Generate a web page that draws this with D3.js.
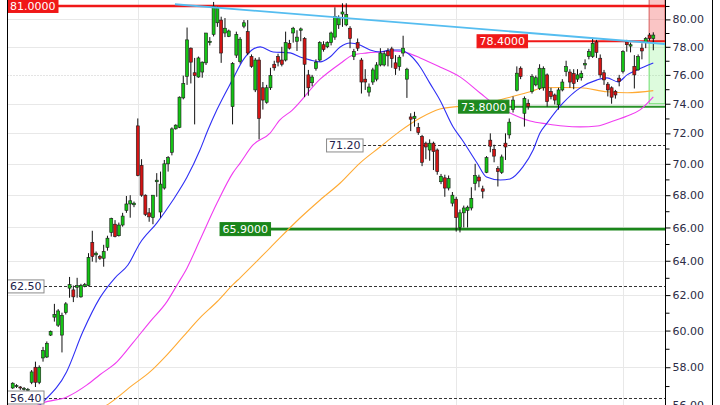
<!DOCTYPE html>
<html><head><meta charset="utf-8">
<script src="https://cdn.jsdelivr.net/npm/d3@7"></script>
<style>html,body{margin:0;padding:0;background:#fff;}svg{display:block;}</style>
</head><body><svg id="c" width="720" height="405"></svg>
<script>
// ---------- DATA ----------
const open = [
56.9,57.0,56.95,56.85,56.8,57.2,58.0,57.2,58.5,58.55,
59.75,60.75,60.3,59.75,61.0,62.4,62.3,62.45,61.9,62.5,
62.55,65.1,64.35,64.25,64.15,64.8,65.7,66.2,65.5,66.15,
67.05,67.45,67.4,72.5,69.9,68.0,66.9,66.6,68.85,66.95,
68.45,70.0,70.75,72.3,72.4,74.4,75.9,77.9,76.15,75.85,
76.2,76.85,78.3,78.9,79.75,79.95,79.0,78.75,73.8,77.4,
76.95,79.5,79.1,77.3,74.95,77.05,75.1,74.1,75.1,76.75,
77.3,77.05,77.05,78.25,79.0,78.4,79.2,78.6,76.0,75.45,
76.45,77.05,78.15,78.0,78.3,78.7,79.6,80.4,79.6,79.35,
77.3,78.3,77.05,75.7,74.8,75.5,75.7,76.7,76.7,77.7,
77.85,76.85,76.6,77.55,75.7,73.1,73.0,72.4,71.8,71.35,
70.9,71.35,70.9,68.85,69.1,68.45,67.5,67.75,66.0,66.9,
67.05,67.2,68.75,69.15,68.4,69.45,71.55,70.95,69.7,69.45,
71.35,71.9,73.6,74.93,76.47,73.35,74.03,74.83,75.3,75.06,
75.1,76.0,74.83,74.6,73.92,74.95,76.23,76.2,76.1,75.7,
75.8,76.7,77.3,77.3,78.35,77.18,76.15,75.35,75.1,74.85,
75.77,76.25,78.35,78.05,76.6,76.35,77.9,78.3,78.85,78.6];
const high = [
57.2,57.1,57.0,56.95,56.9,57.85,58.3,58.1,59.1,59.4,
60.0,61.5,61.2,61.0,61.6,63.05,62.55,63.0,62.65,62.7,
64.45,65.8,64.55,64.35,64.95,65.5,66.6,66.45,66.3,66.9,
67.95,68.0,67.6,73.0,70.3,68.05,67.2,68.0,69.4,69.5,
70.25,70.5,72.4,72.6,74.5,75.95,79.4,77.95,77.2,77.3,
76.95,79.0,78.7,81.3,80.95,80.2,80.1,79.25,76.9,79.1,
78.7,79.95,79.95,77.45,77.2,77.25,75.5,75.3,76.5,77.0,
77.5,78.0,79.1,78.5,79.45,79.2,79.4,78.7,76.35,76.0,
77.1,78.4,78.4,78.4,79.1,80.9,80.3,81.2,81.2,79.5,
77.85,78.6,77.2,76.4,75.4,76.5,76.9,77.9,77.7,77.9,
78.0,77.4,77.4,78.8,76.5,73.35,73.45,72.7,71.9,71.45,
71.6,71.45,71.0,69.35,69.3,69.25,68.2,67.9,67.1,67.35,
67.35,68.5,70.0,69.3,68.6,70.5,72.0,71.25,69.85,70.6,
72.0,73.0,74.5,76.6,76.6,74.5,74.3,76.05,75.95,76.75,
76.6,76.1,75.1,74.7,75.1,75.7,77.0,76.4,76.4,76.4,
76.3,77.1,77.85,78.65,78.5,77.45,76.35,75.5,75.2,74.95,
76.0,77.75,78.5,78.3,77.4,77.45,78.25,78.7,79.0,79.05];
const low = [
56.85,56.9,56.8,56.75,56.7,57.1,56.95,57.1,58.3,58.5,
59.7,60.5,60.2,58.8,60.9,61.85,61.6,61.85,61.85,62.45,
62.5,63.95,63.9,64.05,63.65,64.6,65.45,65.4,65.45,66.05,
66.9,66.6,67.25,69.2,67.9,66.7,66.35,66.2,67.9,66.6,
68.35,69.5,70.55,72.25,72.35,74.3,75.3,75.4,72.6,75.8,
75.8,76.7,78.1,78.75,79.45,76.85,78.7,78.7,72.6,77.2,
76.8,79.35,77.4,76.5,74.8,71.6,73.6,74.0,74.95,76.3,
76.6,76.6,76.95,77.8,78.3,77.7,78.4,74.45,74.55,75.2,
76.3,76.95,77.65,77.9,78.1,78.5,79.3,79.45,79.5,77.9,
77.05,77.7,74.7,74.95,74.5,75.3,75.55,76.6,76.6,76.6,
76.5,76.0,76.3,77.3,74.4,72.15,72.45,71.9,69.85,70.3,
70.2,69.6,69.3,68.7,67.9,68.3,67.3,65.75,65.7,66.0,
66.0,67.05,68.3,68.5,67.8,69.4,70.75,70.1,68.55,69.35,
70.25,71.65,73.4,74.85,75.7,72.45,73.6,74.7,75.2,74.95,
74.9,73.8,74.3,73.95,73.6,74.85,75.9,75.1,75.0,75.5,
75.6,76.4,77.1,77.2,77.2,75.8,75.3,74.5,74.0,74.35,
75.2,76.1,77.65,77.6,75.05,76.3,77.1,77.9,78.45,77.75];
const close = [
57.15,57.02,56.9,56.88,56.82,57.75,57.2,58.0,58.9,59.3,
59.95,60.9,61.1,60.85,61.5,62.6,61.9,62.55,62.55,62.6,
64.2,64.25,64.45,64.15,64.55,65.35,66.55,65.45,66.15,66.7,
67.45,67.65,67.5,69.25,68.0,66.8,66.65,68.0,68.95,68.7,
70.0,70.4,72.3,72.55,74.45,75.4,78.5,76.9,75.95,77.2,
76.9,79.0,78.4,80.95,80.85,77.55,79.35,79.15,76.8,78.9,
78.55,79.75,77.55,76.6,77.05,73.0,74.25,75.1,75.95,76.5,
76.9,76.75,78.3,77.9,79.35,78.7,79.3,76.75,75.1,75.85,
76.9,78.3,77.8,78.3,79.0,80.2,80.1,80.55,80.35,78.6,
77.65,77.9,75.5,75.5,75.15,76.35,76.7,77.55,77.5,77.35,
77.15,76.45,77.25,77.9,76.4,72.95,73.15,72.05,70.1,71.1,
71.35,70.8,69.5,69.2,68.45,69.05,68.0,66.6,66.9,67.2,
67.25,67.8,69.25,68.9,68.25,70.4,71.15,70.5,69.5,70.45,
71.1,72.75,74.25,76.12,75.88,74.37,73.8,75.88,75.8,76.47,
76.45,74.15,74.49,74.25,74.95,75.5,76.58,75.5,75.4,76.0,
76.1,76.8,77.65,78.25,77.6,76.0,75.65,74.95,74.45,74.6,
75.54,77.65,78.15,78.15,76.0,77.3,77.7,78.6,78.6,78.85];

// moving averages: [bar index, price]
const maBlue = [[6,55.8],[8,56.17],[14.2,57.75],[18.5,59.93],[23,61.84],[27,63.0],[30.4,63.75],[33.6,65.06],[38,66.27],[42.3,67.7],[46,69.15],[49.4,70.9],[51.5,72.22],[53.9,73.6],[58.1,75.72],[60.8,77.06],[63.1,77.77],[65.3,77.99],[68.7,77.63],[73.2,77.56],[75.8,77.27],[78.4,77.06],[81.1,76.92],[83.7,77.27],[86.4,77.99],[89,78.27],[91.6,78.13],[94.3,77.77],[96.9,77.63],[99.5,77.77],[102.2,77.77],[104.8,77.41],[107.5,76.56],[110,75.44],[112.7,74.26],[116.2,72.43],[118.6,71.56],[122.5,70.05],[125,69.15],[128.6,68.96],[131.2,69.03],[134.6,69.8],[137.3,70.9],[139.1,72.02],[141,72.7],[145.2,74.05],[149.7,75.09],[154.2,75.65],[156.8,75.79],[159.7,75.51],[162.1,76.0],[164.7,76.35],[169,76.84]];
const maMagenta = [[6,55.95],[8,56.12],[14.3,56.43],[19.6,57.06],[23,57.6],[27.5,58.29],[31.7,59.32],[36.2,60.49],[40.7,61.63],[43.4,62.6],[46,63.58],[49.4,65.24],[53.9,67.51],[58.1,69.42],[60,70.05],[63.4,71.23],[67.9,72.02],[70.5,72.9],[73.7,73.55],[81.1,75.7],[86.4,76.8],[89.8,77.41],[93.5,77.56],[96.9,77.63],[100.4,77.7],[104.1,77.56],[107.5,77.2],[112.7,76.56],[118,75.86],[123.3,74.74],[127.3,73.92],[131.2,73.37],[136.5,72.83],[141,72.63],[145.2,72.49],[149.7,72.43],[154.2,72.49],[158.4,72.83],[162.1,73.17],[165.5,73.58],[169,74.47]];
const maOrange = [[24,55.9],[25.7,56.12],[31.7,57.06],[36.2,57.75],[40.7,58.67],[44.9,59.65],[49.4,60.71],[53.9,61.62],[58.1,62.6],[60,63.0],[67.9,64.77],[75.8,66.58],[81.1,67.7],[86.4,68.77],[91.6,70.05],[96.9,71.1],[102.2,72.15],[107.5,73.03],[112.7,73.64],[117.2,73.8],[121.5,73.85],[126,74.1],[131.2,74.45],[136.5,74.82],[140,75.1],[145.2,75.12],[149.7,75.1],[156.8,74.82],[162.1,74.75],[169,74.9]];

// trend line: [bar index, price]
const trendLine = [[42.8,81.13],[172.1,78.2]];

// horizontal levels
const levelPrices = [81.0, 78.4, 73.8, 65.9, 71.2, 62.5, 56.4];
const levelTexts  = ["81.0000","78.4000","73.8000","65.9000","71.20","62.50","56.40"];
const levelKinds  = ["red","red","green","greenBold","dash","dash","dash"];
const levelAnchor = [null, 122.5, 117.6, 54.7, 82.8, null, null];

// position box (risk/reward)
const posStartIdx = 167.9, posEntry = 78.4, posStop = 82.0, posTarget = 74.0;

// axis ticks
const majorTicks = [56,58,60,62,64,66,68,70,72,74,76,78,80];
const minorTicks = [57,59,61,63,65,67,69,71,73,75,77,79,81];
const periodStarts = [33, 117, 161];

// ---------- DRAW ----------
const W = 720, H = 405, plotL = 7.5, axisX = 665;
const svg = d3.select("#c");
const FONT = "'DejaVu Sans', Verdana, sans-serif";
const x = d3.scaleLinear().domain([0, 169]).range([12.7, 653.3]);
const y = d3.scaleLog().domain([56, 80]).range([405.2, 19.4]);

svg.append("rect").attr("width", W).attr("height", H).attr("fill", "#fff");
svg.append("defs").append("clipPath").attr("id", "clp")
  .append("rect").attr("x", plotL + 0.5).attr("y", 0).attr("width", axisX - plotL - 0.5).attr("height", H);

const plot = svg.append("g").attr("clip-path", "url(#clp)");

// grid
plot.selectAll(".hg").data(majorTicks).join("line")
  .attr("x1", plotL).attr("x2", axisX)
  .attr("y1", d => Math.round(y(d)) + 0.5).attr("y2", d => Math.round(y(d)) + 0.5)
  .attr("stroke", d => d === 76 ? "#c8c8c8" : "#e8e8e8")
  .attr("stroke-dasharray", d => d === 76 ? "1,2" : null);
plot.selectAll(".vg").data(periodStarts).join("line")
  .attr("x1", d => Math.round(x(d)) + 0.5).attr("x2", d => Math.round(x(d)) + 0.5)
  .attr("y1", 0).attr("y2", H).attr("stroke", "#e8e8e8");

// position boxes
const px0 = x(posStartIdx);
plot.append("rect").attr("x", px0).attr("y", y(posStop)).attr("width", axisX - px0)
  .attr("height", y(posEntry) - y(posStop)).attr("fill", "rgba(240,90,90,0.35)")
  .attr("stroke", "#d65a5a").attr("stroke-width", 1);
plot.append("rect").attr("x", px0).attr("y", y(posEntry)).attr("width", axisX - px0)
  .attr("height", y(posTarget) - y(posEntry)).attr("fill", "rgba(120,240,120,0.25)")
  .attr("stroke", "#6ede6e").attr("stroke-width", 1);

// levels (lines + labels)
const labelLayer = svg.append("g");
levelPrices.forEach((p, k) => {
  const kind = levelKinds[k];
  const yy = y(p);
  const x0 = levelAnchor[k] == null ? plotL : x(levelAnchor[k]);
  const g = labelLayer.append("g");
  const t = g.append("text").attr("x", x0 + 2.5).attr("y", yy + 4)
    .attr("font-family", FONT).attr("font-size", 11).text(levelTexts[k]);
  const w = t.node().getComputedTextLength() + 5;
  let bg, fg, bd, lineCol, lw, dash = null;
  if (kind === "red") { bg = "#f01818"; fg = "#fff"; bd = "#f01818"; lineCol = "#f01818"; lw = k === 0 ? 2.5 : 2; }
  else if (kind === "green") { bg = "#1f8a1f"; fg = "#fff"; bd = "#1f8a1f"; lineCol = "#2a922a"; lw = 2; }
  else if (kind === "greenBold") { bg = "#1a861a"; fg = "#fff"; bd = "#1a861a"; lineCol = "#1a861a"; lw = 2.6; }
  else { bg = "#fff"; fg = "#22224a"; bd = "#8a8a8a"; lineCol = "#333"; lw = 1; dash = "3,2"; }
  g.insert("rect", "text").attr("x", x0).attr("y", yy - 6.5).attr("width", w).attr("height", 13)
    .attr("fill", bg).attr("stroke", bd).attr("stroke-width", 1);
  t.attr("fill", fg);
  plot.append("line").attr("x1", x0 + w).attr("x2", axisX)
    .attr("y1", kind === "dash" ? Math.round(yy) + 0.5 : yy).attr("y2", kind === "dash" ? Math.round(yy) + 0.5 : yy)
    .attr("stroke", lineCol).attr("stroke-width", lw).attr("stroke-dasharray", dash);
});

// moving averages
const line = d3.line().x(d => x(d[0])).y(d => y(d[1])).curve(d3.curveMonotoneX);
[[maOrange, "#ffaa33"], [maMagenta, "#f03cf0"], [maBlue, "#2f2ff5"]].forEach(([data, col]) => {
  plot.append("path").datum(data).attr("d", line).attr("fill", "none")
    .attr("stroke", col).attr("stroke-width", 1.1);
});

// candles
const idx = d3.range(open.length);
const cg = plot.append("g");
cg.selectAll(".wick").data(idx).join("line")
  .attr("x1", i => x(i)).attr("x2", i => x(i))
  .attr("y1", i => y(Math.max(high[i], open[i], close[i])))
  .attr("y2", i => y(Math.min(low[i], open[i], close[i])))
  .attr("stroke", "#111").attr("stroke-width", 1);
cg.selectAll(".body").data(idx).join("rect")
  .attr("x", i => x(i) - 1.5).attr("width", 3)
  .attr("y", i => y(Math.max(open[i], close[i])))
  .attr("height", i => Math.max(1, y(Math.min(open[i], close[i])) - y(Math.max(open[i], close[i]))))
  .attr("fill", i => close[i] >= open[i] ? "#14c414" : "#d41414")
  .attr("stroke", "#1a1a1a").attr("stroke-width", 0.6);

// trend line
plot.append("path").datum(trendLine).attr("d", d3.line().x(d => x(d[0])).y(d => y(d[1])))
  .attr("fill", "none").attr("stroke", "#55bdf0").attr("stroke-width", 1.8);

labelLayer.raise();

// frame
svg.append("line").attr("x1", plotL).attr("x2", plotL).attr("y1", 0).attr("y2", H).attr("stroke", "#000");
svg.append("line").attr("x1", 712.5).attr("x2", 712.5).attr("y1", 0).attr("y2", H).attr("stroke", "#000");
svg.append("line").attr("x1", axisX + 0.5).attr("x2", axisX + 0.5).attr("y1", 0).attr("y2", H).attr("stroke", "#000");

// axis
const ax = svg.append("g").attr("transform", `translate(${axisX + 0.5},0)`)
  .call(d3.axisRight(y).tickValues(majorTicks).tickSize(5).tickSizeOuter(0).tickFormat(d3.format(".2f")));
ax.select(".domain").remove();
ax.selectAll("text").attr("font-family", FONT).attr("font-size", 11).attr("fill", "#2c2c46").attr("x", 7);
ax.selectAll("line").attr("stroke", "#000");
const ax2 = svg.append("g").attr("transform", `translate(${axisX + 0.5},0)`)
  .call(d3.axisRight(y).tickValues(minorTicks).tickSize(4).tickSizeOuter(0).tickFormat(""));
ax2.select(".domain").remove();
ax2.selectAll("line").attr("stroke", "#000");
</script></body></html>
